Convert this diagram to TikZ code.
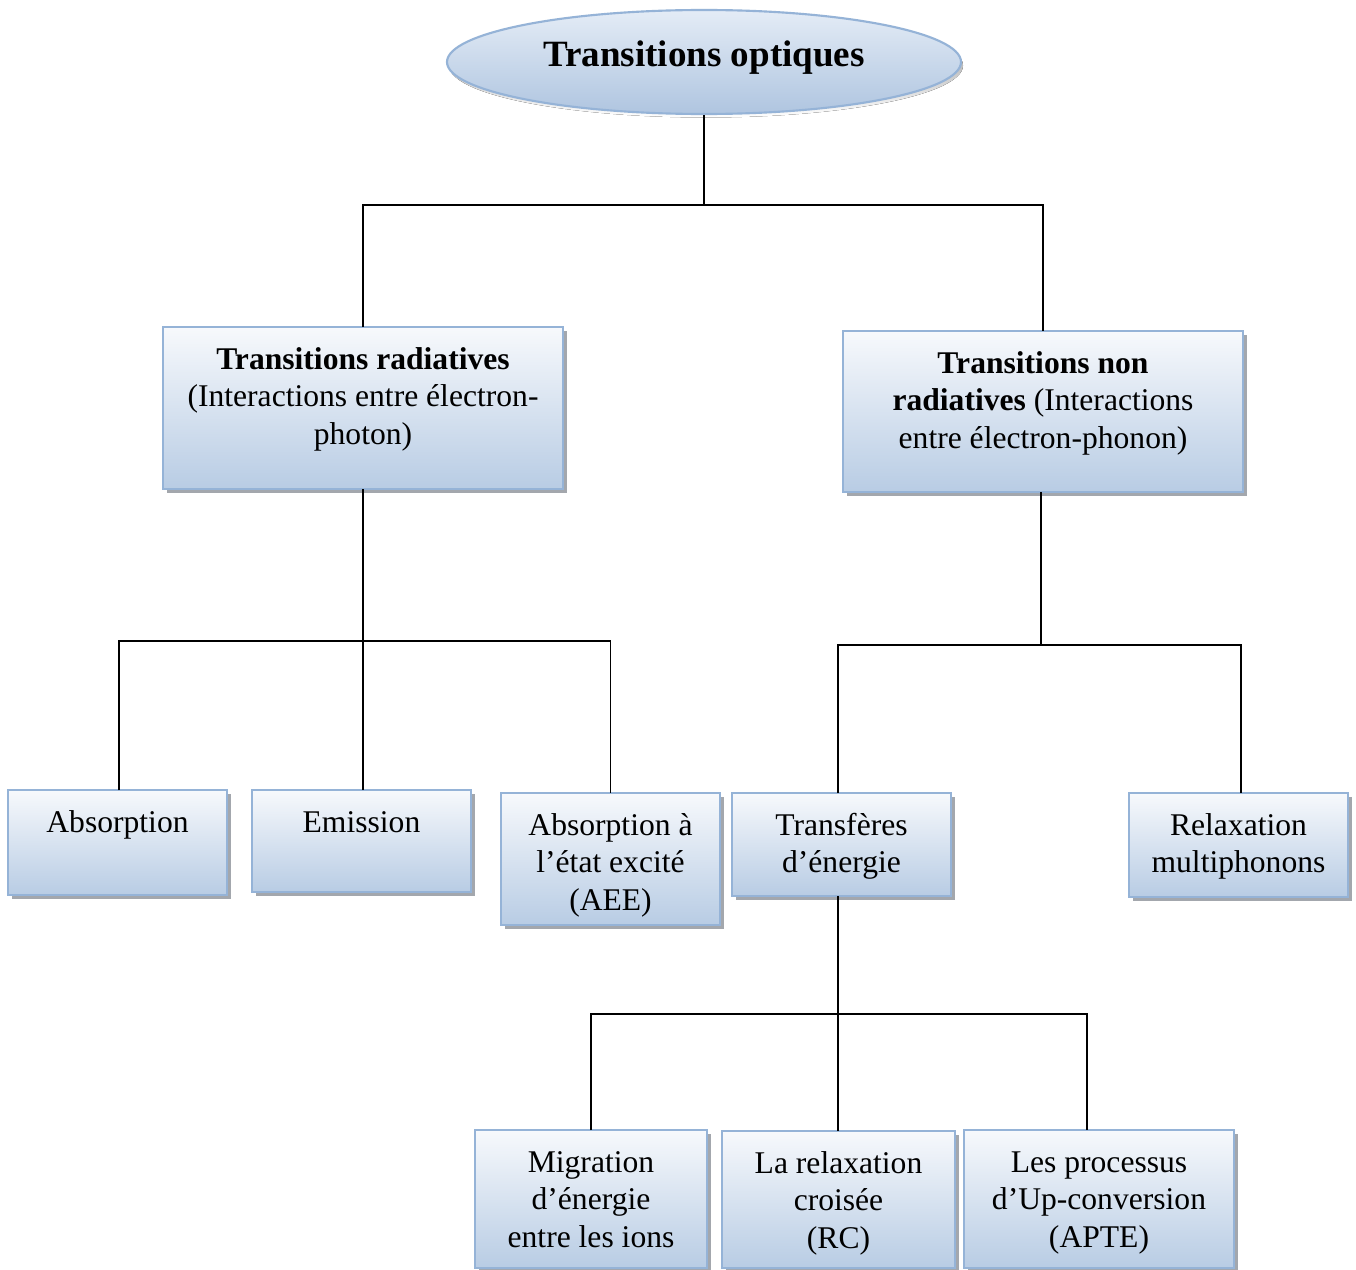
\documentclass[tikz,border=0pt]{standalone}
\usepackage{fontspec}
\setmainfont{Liberation Serif}
\usetikzlibrary{shapes.geometric}
\definecolor{boxline}{HTML}{95B3D7}
\definecolor{boxtop}{HTML}{F7F9FC}
\definecolor{boxbot}{HTML}{B8CCE4}
\definecolor{ovaltop}{HTML}{E4ECF6}
\definecolor{ovalbot}{HTML}{AFC5E0}
\definecolor{shade}{HTML}{A3A7AD}
\tikzset{
  boxstyle/.style={draw=boxline, line width=1.4pt, top color=boxtop, bottom color=boxbot,
    rectangle, inner sep=0pt, outer sep=0pt},
  txt/.style={align=center, inner sep=0pt, font=\fontsize{23.7pt}{28.1pt}\selectfont},
  link/.style={line width=1.3pt, black},
  shadowfill/.style={fill=shade}
}
% box: name, left, top, right, bottom, text (pixel units, y downward)
\newcommand\chartbox[6]{%
  \fill[shadowfill] (#2+3.5,#3+3.5) rectangle (#4+3.5,#5+3.5);
  \node[boxstyle, minimum width={(#4-#2)*0.75pt}, minimum height={(#5-#3)*0.75pt}]
    (#1) at ({(#2+#4)/2},{(#3+#5)/2}) {};
  \node[txt, anchor=north] (#1-t) at ([yshift=-13.8pt]#1.north) {\rule{0pt}{17.8pt}#6};
}
\begin{document}
\begin{tikzpicture}[x=0.75pt, y=-0.75pt]
\useasboundingbox[fill=white] (0,0) rectangle (1356,1270);

% top oval
\fill[shade] (706,65.5) ellipse [x radius=257, y radius=52];
\node[ellipse, draw=boxline, line width=1.6pt, top color=ovaltop, bottom color=ovalbot,
  minimum width=385.5pt, minimum height=78pt, inner sep=0pt] (top) at (704,62) {};
\node[anchor=base, inner sep=0pt, font=\fontsize{27.8pt}{33pt}\selectfont\bfseries]
  (top-t) at (704,66.5) {Transitions optiques};

% second level
\chartbox{rad}{163}{327}{563}{489}{\textbf{Transitions radiatives}\\(Interactions entre électron-\\photon)}
\chartbox{nrad}{843}{331}{1243}{492}{\textbf{Transitions non}\\\textbf{radiatives} (Interactions\\entre électron-phonon)}

% third level
\chartbox{abs}{8}{790}{227}{895}{Absorption}
\chartbox{emi}{252}{790}{471}{892}{Emission}
\chartbox{aee}{501}{793}{720}{925}{Absorption à\\l’état excité\\(AEE)}
\chartbox{tra}{732}{793}{951}{896}{Transfères\\d’énergie}
\chartbox{rel}{1129}{793}{1348}{897}{Relaxation\\multiphonons}

% fourth level
\chartbox{mig}{475}{1130}{707}{1268}{Migration\\d’énergie\\entre les ions}
\chartbox{rc}{722}{1131}{955}{1268}{La relaxation\\croisée\\(RC)}
\chartbox{up}{964}{1130}{1234}{1268}{Les processus\\d’Up-conversion\\(APTE)}

% junctions
\coordinate (j0) at (704,205);
\coordinate (j1) at (363,641);
\coordinate (j2) at (1041,645);
\coordinate (j3) at (838,1014);

% connectors
\draw[link] (top.south) -- (j0);
\draw[link] (rad.north) |- (j0) -| (nrad.north);
\draw[link] (rad.south) -- (j1) -- (j1 |- emi.north);
\draw[link] ([xshift=1pt]abs.north) |- (j1) -| (aee.north);
\draw[link] (nrad.south -| j2) -- (j2);
\draw[link] (tra.north -| j3) |- (j2) -| ([xshift=2pt]rel.north);
\draw[link] (tra.south -| j3) -- (j3) -- (j3 |- rc.north);
\draw[link] (mig.north) |- (j3) -| ([xshift=-9pt]up.north);
\end{tikzpicture}
\end{document}
